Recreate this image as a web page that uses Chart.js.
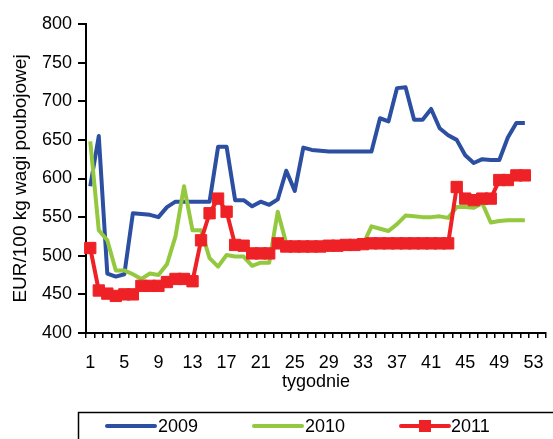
<!DOCTYPE html>
<html>
<head>
<meta charset="utf-8">
<script src="https://cdn.jsdelivr.net/npm/chart.js@4/dist/chart.umd.min.js"></script>
<style>
html,body{margin:0;padding:0;background:#fff;overflow:hidden;}
#wrap{width:556px;height:439px;}
</style>
</head>
<body>
<div id="wrap"><canvas id="c" width="556" height="439"></canvas></div>
<script>
const weeks = Array.from({length: 54}, (_, i) => String(i + 1));
const tickLabels = ['1','5','9','13','17','21','25','29','33','37','41','45','49','53'];
const seriesNames = ['2009', '2010', '2011'];
const values2009 = [590,655,477,473,476,555,554,553,550,563,
  570,570,570,570,570,641,641,572,572,564,
  570,566,573,610,584,640,637,636,635,635,
  635,635,635,635,678,674,717,718,676,676,
  690,665,656,650,630,620,625,624,624,653,
  672,672];
const values2010 = [648,533,520,481,481,476,470,477,475,489,
  525,590,533,533,497,486,501,499,499,487,
  491,491,557,516,511,511,511,511,511,511,
  511,511,514,538,535,532,541,552,551,550,
  550,551,549,563,563,562,568,543,545,546,
  546,546];
const values2011 = [510,455,451,448,450,450,461,461,461,466,
  470,470,467,520,555,574,557,514,513,503,
  503,503,516,512,512,512,512,512,513,513,
  514,514,515,516,516,516,516,516,516,516,
  516,516,516,589,574,572,574,574,598,598,
  604,604];
const yAxisTitle = 'EUR/100 kg wagi poubojowej';
const xAxisTitle = 'tygodnie';

const FONT = 'Liberation Sans, Arial, sans-serif';
const colors = ['#2C4FA1', '#93C83F', '#EE2226'];

const legendPlugin = {
  id: 'boxLegend',
  afterDraw(chart) {
    const ctx = chart.ctx;
    ctx.save();
    ctx.strokeStyle = '#000';
    ctx.lineWidth = 1.5;
    ctx.strokeRect(78.5, 412.5, 500, 60);
    const items = [{x1:107, x2:155, tx:158}, {x1:254, x2:302, tx:305}, {x1:401, x2:449, tx:451}];
    const y = 426;
    chart.data.datasets.forEach((ds, i) => {
      const it = items[i];
      ctx.strokeStyle = ds.borderColor;
      ctx.lineWidth = 4;
      ctx.lineCap = 'round';
      ctx.beginPath();
      ctx.moveTo(it.x1, y);
      ctx.lineTo(it.x2, y);
      ctx.stroke();
      if (ds.pointRadius > 0) {
        ctx.fillStyle = ds.borderColor;
        ctx.fillRect((it.x1 + it.x2) / 2 - 6, y - 6, 12, 12);
      }
      ctx.fillStyle = '#000';
      ctx.font = '18px ' + FONT;
      ctx.textBaseline = 'middle';
      ctx.textAlign = 'left';
      ctx.fillText(ds.label, it.tx, y + 1);
    });
    ctx.restore();
  }
};

new Chart(document.getElementById('c'), {
  type: 'line',
  data: {
    labels: weeks,
    datasets: [
      {label: seriesNames[0], data: values2009, borderColor: colors[0], backgroundColor: colors[0],
       borderWidth: 4, pointRadius: 0, tension: 0, order: 2, borderJoinStyle: 'round'},
      {label: seriesNames[1], data: values2010, borderColor: colors[1], backgroundColor: colors[1],
       borderWidth: 4, pointRadius: 0, tension: 0, order: 1, borderJoinStyle: 'round'},
      {label: seriesNames[2], data: values2011, borderColor: colors[2], backgroundColor: colors[2],
       borderWidth: 4, pointRadius: 8, pointStyle: 'rect', pointBorderWidth: 1,
       pointBackgroundColor: colors[2], pointBorderColor: colors[2], tension: 0, order: 0, borderJoinStyle: 'round'}
    ]
  },
  options: {
    responsive: false,
    animation: false,
    layout: {padding: {left: 0, right: 0, top: 24, bottom: 36}},
    plugins: {legend: {display: false}, tooltip: {enabled: false}},
    scales: {
      x: {
        type: 'category',
        offset: true,
        grid: {display: true, drawOnChartArea: false, drawTicks: true, tickLength: 5, color: '#000', lineWidth: 1.5, offset: true},
        border: {display: true, color: '#000', width: 2},
        ticks: {
          autoSkip: false, maxRotation: 0, color: '#000', padding: 14,
          font: {family: FONT, size: 18},
          callback: function(v) { const l = this.getLabelForValue(v); return tickLabels.includes(l) ? l : ''; }
        },
        title: {display: true, text: xAxisTitle, color: '#000', font: {family: FONT, size: 18}, padding: {top: 0, bottom: 10}},
        afterFit(scale) { scale.height = 70; }
      },
      y: {
        min: 400, max: 800,
        grid: {display: true, drawOnChartArea: false, drawTicks: true, tickLength: 8, color: '#000', lineWidth: 2},
        border: {display: true, color: '#000', width: 2},
        ticks: {stepSize: 50, color: '#000', padding: 6, font: {family: FONT, size: 18}},
        title: {display: true, text: yAxisTitle, color: '#000', font: {family: FONT, size: 19}, padding: {top: 9, bottom: 0}},
        afterFit(scale) { scale.width = 86; }
      }
    }
  },
  plugins: [legendPlugin]
});
</script>
</body>
</html>
